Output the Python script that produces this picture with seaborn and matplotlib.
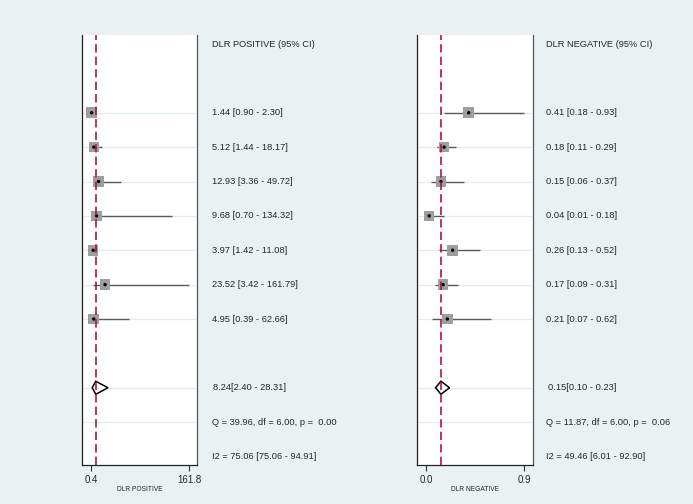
import numpy as np
import pandas as pd
import matplotlib
matplotlib.use("Agg")
import matplotlib.pyplot as plt
import matplotlib.transforms as mtransforms
from matplotlib.patches import Polygon
import seaborn as sns

# Study-level likelihood ratios (7 studies)
pos_est = [1.44, 5.12, 12.93, 9.68, 3.97, 23.52, 4.95]
pos_lo = [0.90, 1.44, 3.36, 0.70, 1.42, 3.42, 0.39]
pos_hi = [2.30, 18.17, 49.72, 134.32, 11.08, 161.79, 62.66]

neg_est = [0.41, 0.18, 0.15, 0.04, 0.26, 0.17, 0.21]
neg_lo = [0.18, 0.11, 0.06, 0.01, 0.13, 0.09, 0.07]
neg_hi = [0.93, 0.29, 0.37, 0.18, 0.52, 0.31, 0.62]

# Pooled estimates
pos_pooled = [8.24, 2.40, 28.31]
neg_pooled = [0.15, 0.10, 0.23]

pos_labels = ["1.44 [0.90 - 2.30]", "5.12 [1.44 - 18.17]", "12.93 [3.36 - 49.72]",
              "9.68 [0.70 - 134.32]", "3.97 [1.42 - 11.08]", "23.52 [3.42 - 161.79]",
              "4.95 [0.39 - 62.66]"]
neg_labels = ["0.41 [0.18 - 0.93]", "0.18 [0.11 - 0.29]", "0.15 [0.06 - 0.37]",
              "0.04 [0.01 - 0.18]", "0.26 [0.13 - 0.52]", "0.17 [0.09 - 0.31]",
              "0.21 [0.07 - 0.62]"]

pos_summary = ["8.24[2.40 - 28.31]", "Q = 39.96, df = 6.00, p =  0.00",
               "I2 = 75.06 [75.06 - 94.91]"]
neg_summary = ["0.15[0.10 - 0.23]", "Q = 11.87, df = 6.00, p =  0.06",
               "I2 = 49.46 [6.01 - 92.90]"]

# axis ticks sit at the CI extremes, labelled with one decimal
pos_ticks = [0.39, 161.79]
pos_ticklabels = ["0.4", "161.8"]
neg_ticks = [0.01, 0.93]
neg_ticklabels = ["0.0", "0.9"]

BG = "#EAF1F3"
GRID = "#E4ECEF"
FS = 6.7

sns.set_style("white")
plt.rcParams["font.family"] = ["Liberation Sans", "DejaVu Sans"]

W, H = 693, 504
fig = plt.figure(figsize=(W / 100, H / 100), dpi=100)
fig.patch.set_facecolor(BG)

study_rows = np.arange(2, 9)
pooled_row = 10


def draw_panel(left_px, right_px, xlim, est, lo, hi, pooled, labels, summary,
               header, xlabel, ticks, ticklabels, text_px):
    ax = fig.add_axes([left_px / W, (H - 465) / H, (right_px - left_px) / W, 430 / H])
    ax.set_facecolor("white")
    ax.set_xlim(*xlim)
    ax.set_ylim(12.247, -0.262)

    # light row lines
    for r in list(study_rows) + [pooled_row, 11]:
        ax.axhline(r, color=GRID, lw=0.9, zorder=0)

    df = pd.DataFrame({"est": est, "lo": lo, "hi": hi, "row": study_rows})
    ax.hlines(df["row"], df["lo"], df["hi"], color="#5A5A5A", lw=1.0, zorder=2)
    sns.scatterplot(data=df, x="est", y="row", marker="s", s=58, color="#9E9E9E",
                    edgecolor="none", ax=ax, zorder=3, legend=False)
    sns.scatterplot(data=df, x="est", y="row", marker="o", s=6, color="black",
                    edgecolor="none", ax=ax, zorder=4, legend=False)

    # pooled diamond
    p, plo, phi = pooled
    dh = 0.19
    diamond = Polygon([[plo, pooled_row], [p, pooled_row - dh], [phi, pooled_row],
                       [p, pooled_row + dh]], closed=True, facecolor="white",
                       edgecolor="black", lw=1.1, zorder=4)
    ax.add_patch(diamond)

    # reference line at pooled estimate
    ax.axvline(p, color="#B5123E", lw=1.2, ls=(0, (5, 2.5)), zorder=5)

    ax.set_xticks(ticks)
    ax.set_xticklabels(ticklabels, fontsize=7)
    ax.set_yticks([])
    ax.tick_params(axis="x", direction="out", length=4, width=0.8, color="#333333",
                   pad=3, bottom=True)
    ax.set_xlabel(xlabel, fontsize=4.8, labelpad=1)
    ax.set_ylabel("")
    ax.spines["top"].set_visible(False)
    ax.spines["left"].set_color("#222222")
    ax.spines["bottom"].set_color("#222222")
    ax.spines["right"].set_color("#555555")
    for s in ["left", "bottom", "right"]:
        ax.spines[s].set_linewidth(0.9)

    trans = mtransforms.blended_transform_factory(fig.transFigure, ax.transData)
    ax.text(text_px / W, 0, header, transform=trans, fontsize=FS, va="center",
            ha="left", clip_on=False)
    for r, lab in zip(study_rows, labels):
        ax.text(text_px / W, r, lab, transform=trans, fontsize=FS, va="center",
                ha="left", clip_on=False)
    ax.text((text_px + 1.5) / W, pooled_row, summary[0], transform=trans, fontsize=FS,
            va="center", ha="left", clip_on=False)
    ax.text(text_px / W, 11, summary[1], transform=trans, fontsize=FS, va="center",
            ha="left", clip_on=False)
    ax.text(text_px / W, 12, summary[2], transform=trans, fontsize=FS, va="center",
            ha="left", clip_on=False)
    return ax


draw_panel(82, 197, (-14.43, 174.97), pos_est, pos_lo, pos_hi, pos_pooled,
           pos_labels, pos_summary, "DLR POSITIVE (95% CI)", "DLR POSITIVE",
           pos_ticks, pos_ticklabels, 211.5)
draw_panel(417, 533, (-0.0742, 1.0114), neg_est, neg_lo, neg_hi, neg_pooled,
           neg_labels, neg_summary, "DLR NEGATIVE (95% CI)", "DLR NEGATIVE",
           neg_ticks, neg_ticklabels, 546.5)

fig.savefig("out.png", dpi=100, facecolor=BG)
